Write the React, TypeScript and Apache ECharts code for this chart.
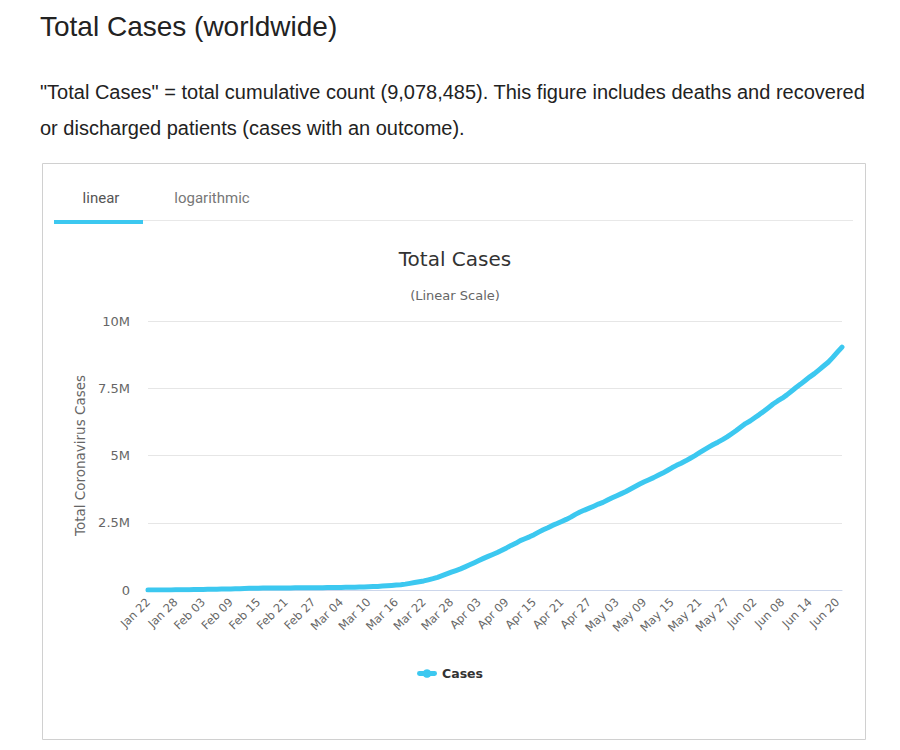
import React, { useEffect, useRef } from "react";
import * as echarts from "echarts";

const startDate = "2020-01-22";
const janValues = [580, 845, 1317, 2015, 2800, 4581, 6058, 7813, 9823, 11950];
const febValues = [14553, 17391, 20630, 24545, 28266, 31439, 34876, 37552, 40553, 43099, 45134, 59287, 64438, 67100, 69197, 71329, 73332, 75184, 75700, 76677, 77673, 78651, 79205, 80087, 80828, 81820, 83112, 84615, 86604];
const marValues = [88585, 90443, 93016, 95314, 98425, 102050, 106099, 109991, 114381, 118948, 126214, 134576, 145483, 156653, 169593, 182490, 198238, 218822, 246417, 275875, 305036, 337489, 378287, 422574, 471035, 531865, 596366, 663127, 723390, 784794, 858371];
const aprValues = [935197, 1016128, 1097909, 1176060, 1249754, 1321481, 1396476, 1480202, 1565278, 1657526, 1735650, 1834721, 1904838, 1976191, 2056054, 2152437, 2240190, 2317758, 2401378, 2472259, 2549123, 2624068, 2708885, 2811193, 2896633, 2971475, 3041764, 3116398, 3193886, 3256846];
const mayValues = [3343777, 3427343, 3506729, 3583055, 3662691, 3755341, 3845718, 3938064, 4024009, 4101699, 4177504, 4261955, 4347018, 4442163, 4542347, 4634068, 4713620, 4801943, 4897492, 4996472, 5102424, 5210817, 5311312, 5407613, 5495061, 5589626, 5691790, 5808946, 5930555, 6059017, 6185858];
const junValues = [6280725, 6401536, 6520924, 6647861, 6778724, 6914666, 7026925, 7129150, 7253492, 7387517, 7525631, 7654725, 7790735, 7924156, 8043794, 8185197, 8327050, 8466978, 8647784, 8840000, 9030000];
const yTicks = [0, 2500000, 5000000, 7500000, 10000000];
const yTickLabels = ["0", "2.5M", "5M", "7.5M", "10M"];

const cases = [...janValues, ...febValues, ...marValues, ...aprValues, ...mayValues, ...junValues];
const monthNames = ["Jan", "Feb", "Mar", "Apr", "May", "Jun", "Jul", "Aug", "Sep", "Oct", "Nov", "Dec"];
const categories = cases.map((_, i) => {
  const d = new Date(startDate + "T00:00:00Z");
  d.setUTCDate(d.getUTCDate() + i);
  const dd = String(d.getUTCDate()).padStart(2, "0");
  return monthNames[d.getUTCMonth()] + " " + dd;
});

export default function App() {
  const ref = useRef<HTMLDivElement>(null);
  useEffect(() => {
    if (!ref.current) return;
    const chart = echarts.init(ref.current, null, { renderer: "svg" });
    const axisFont = '"DejaVu Sans", Verdana, sans-serif';
    const pageFont = '"Liberation Sans", Arial, sans-serif';
    chart.setOption({
      animation: false,
      backgroundColor: "#ffffff",
      graphic: [
        { type: "rect", shape: { x: 42.5, y: 163.5, width: 823, height: 576 }, style: { fill: "none", stroke: "#d0d0d0", lineWidth: 1 } },
        { type: "text", x: 40, y: 26, style: { text: "Total Cases (worldwide)", font: "28px " + pageFont, fill: "#222222", textVerticalAlign: "middle" } },
        { type: "text", x: 40, y: 92, style: { text: '"Total Cases" = total cumulative count (9,078,485). This figure includes deaths and recovered', font: "20px " + pageFont, fill: "#222222", textVerticalAlign: "middle" } },
        { type: "text", x: 40, y: 128, style: { text: "or discharged patients (cases with an outcome).", font: "20px " + pageFont, fill: "#222222", textVerticalAlign: "middle" } },
        { type: "line", shape: { x1: 54, y1: 220.5, x2: 853, y2: 220.5 }, style: { stroke: "#e8e8e8", lineWidth: 1 } },
        { type: "rect", shape: { x: 54, y: 220, width: 89, height: 4 }, style: { fill: "#3cc8f0" } },
        { type: "text", x: 101, y: 198, style: { text: "linear", font: "15px Roboto, sans-serif", fill: "#555555", textAlign: "center", textVerticalAlign: "middle" } },
        { type: "text", x: 212, y: 198, style: { text: "logarithmic", font: "15px Roboto, sans-serif", fill: "#777777", textAlign: "center", textVerticalAlign: "middle" } },
        { type: "text", x: 455, y: 259, style: { text: "Total Cases", font: "20px " + axisFont, fill: "#333333", textAlign: "center", textVerticalAlign: "middle" } },
        { type: "text", x: 455, y: 295, style: { text: "(Linear Scale)", font: "13px " + axisFont, fill: "#666666", textAlign: "center", textVerticalAlign: "middle" } },
      ],
      legend: {
        top: 662,
        left: "center",
        itemWidth: 20,
        itemHeight: 10,
        itemGap: 6,
        textStyle: { fontFamily: axisFont, fontSize: 12.5, fontWeight: "bold", color: "#333333" },
        data: [
          {
            name: "Cases",
            icon: "path://M2,2.5 L18,2.5 A2.5,2.5 0 0 1 18,7.5 L2,7.5 A2.5,2.5 0 0 1 2,2.5 Z M10,0.5 A4.5,4.5 0 1 1 9.99,0.5 Z",
          },
        ],
      },
      grid: { left: 148, right: 58, top: 321, bottom: 160 },
      xAxis: {
        type: "category",
        data: categories,
        boundaryGap: false,
        axisLine: { lineStyle: { color: "#ccd6eb" } },
        axisTick: { show: false },
        axisLabel: {
          interval: 5,
          rotate: 45,
          fontFamily: axisFont,
          fontSize: 11.5,
          color: "#666666",
          margin: 10,
        },
      },
      yAxis: {
        type: "value",
        min: 0,
        max: 10000000,
        interval: 2500000,
        name: "Total Coronavirus Cases",
        nameLocation: "middle",
        nameGap: 60,
        nameTextStyle: { fontFamily: axisFont, fontSize: 13.5, color: "#666666" },
        axisLine: { show: false },
        axisTick: { show: false },
        splitLine: { lineStyle: { color: "#e6e6e6" } },
        axisLabel: {
          fontFamily: axisFont,
          fontSize: 13,
          color: "#666666",
          margin: 18,
          formatter: (v: number) => {
            const idx = yTicks.indexOf(v);
            return idx >= 0 ? yTickLabels[idx] : "";
          },
        },
      },
      series: [
        {
          name: "Cases",
          type: "line",
          data: cases,
          showSymbol: false,
          symbol: "circle",
          symbolSize: 8,
          smooth: false,
          lineStyle: { width: 5, color: "#3cc8f0", cap: "round", join: "round" },
          itemStyle: { color: "#3cc8f0" },
        },
      ],
    });
    return () => chart.dispose();
  }, []);
  return <div ref={ref} style={{ position: "fixed", left: 0, top: 0, width: 900, height: 750 }} />;
}
